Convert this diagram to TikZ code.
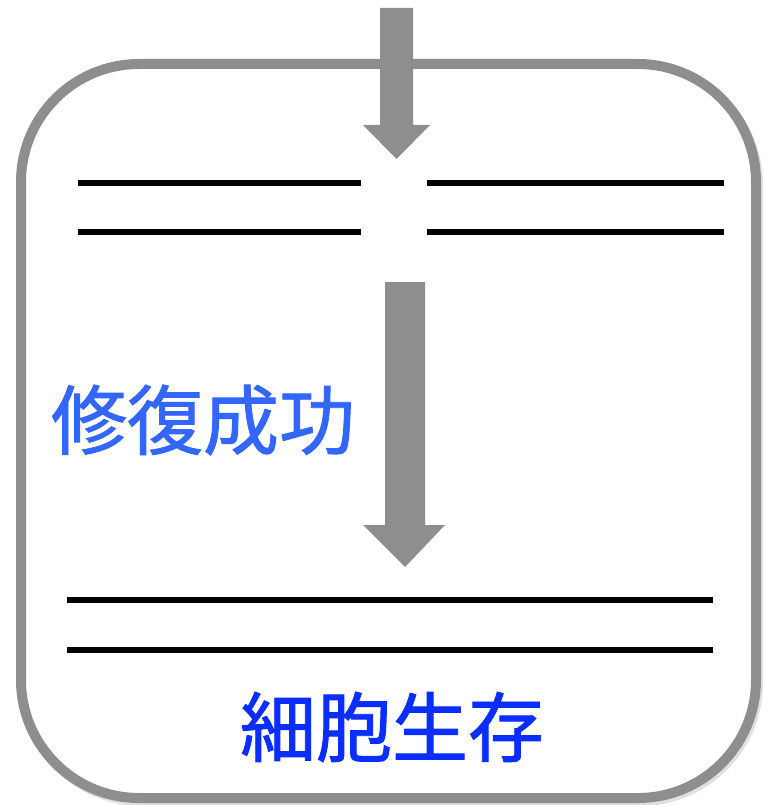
\documentclass[tikz,border=0pt]{standalone}
\usepackage{fontspec}
\newfontfamily\cjk[FakeBold=1.2]{Noto Sans CJK JP}
\definecolor{boxgray}{HTML}{8E8E8E}
\definecolor{darkblue}{HTML}{0A2EFF}
\definecolor{lightblue}{HTML}{3366FF}
\tikzset{
  strand/.style={line width=6pt, black},
  blockarrow/.style={fill=boxgray, draw=none},
  label/.style={font=\cjk\fontsize{76}{80}\selectfont, inner sep=0pt},
}
\begin{document}
\begin{tikzpicture}[x=1pt,y=-1pt]
\useasboundingbox (0,0) rectangle (769,805);
% shadow
\draw[line width=10pt, black!12, rounded corners=118pt] (24,67) rectangle (758,801);
% box
\draw[line width=10pt, boxgray, fill=white, rounded corners=118pt] (21,64) rectangle (756,798);
% top arrow
\fill[blockarrow] (380,8) -- (413,8) -- (413,125) -- (430,125) -- (396.5,159) -- (363,125) -- (380,125) -- cycle;
% top strands
\coordinate (a1) at (78,183);  \coordinate (a2) at (361,183);
\coordinate (b1) at (427,183); \coordinate (b2) at (724,183);
\coordinate (c1) at (78,232);  \coordinate (c2) at (361,232);
\coordinate (d1) at (427,232); \coordinate (d2) at (724,232);
\draw[strand] (a1) -- (a2);
\draw[strand] (b1) -- (b2);
\draw[strand] (c1) -- (c2);
\draw[strand] (d1) -- (d2);
% middle arrow
\fill[blockarrow] (385,282) -- (425,282) -- (425,525) -- (445,525) -- (405,567) -- (363,525) -- (385,525) -- cycle;
% bottom strands
\coordinate (e1) at (67,600); \coordinate (e2) at (713,600);
\coordinate (f1) at (67,650); \coordinate (f2) at (713,650);
\draw[strand] (e1) -- (e2);
\draw[strand] (f1) -- (f2);
% labels
\node[label, text=lightblue] (repair) at (203,420) {修復成功};
\node[label, text=darkblue] (survive) at (392,727) {細胞生存};
\end{tikzpicture}
\end{document}
